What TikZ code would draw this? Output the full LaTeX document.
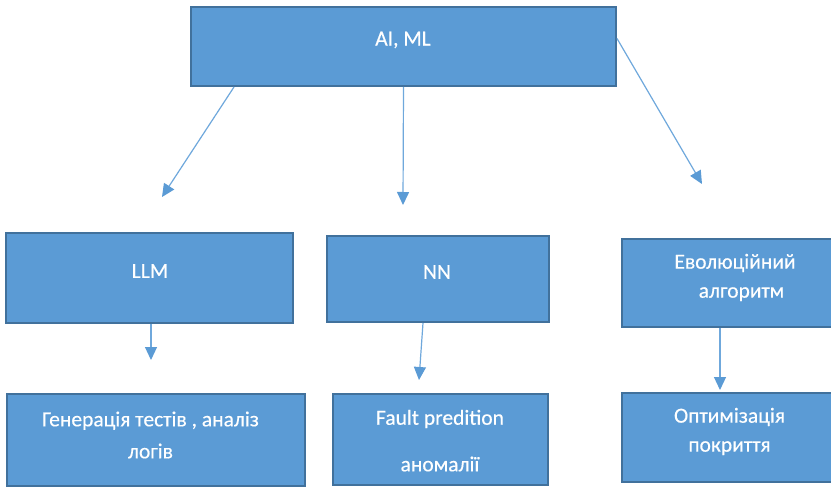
\documentclass[tikz,border=0pt]{standalone}
\usepackage{fontspec}
\setmainfont{Carlito}
\newfontfamily\boxfont{Carlito}[FakeBold=0.35]
\usetikzlibrary{arrows.meta}
\definecolor{boxfill}{HTML}{5B9BD5}
\definecolor{boxline}{HTML}{41719C}
\definecolor{arrline}{HTML}{6FA8DC}
\tikzset{
  blk/.style={draw=boxline, fill=boxfill, line width=2pt, rectangle, inner sep=0pt},
  txt/.style={text=white, font=\boxfont\fontsize{21.5}{30}\selectfont, align=center, inner sep=0pt},
  conn/.style={draw=arrline, line width=1.2pt, -{Triangle[length=13pt,width=12pt,fill=boxfill,color=boxfill]}}
}
\begin{document}
\begin{tikzpicture}[x=1pt,y=-1pt]
\useasboundingbox (0,0) rectangle (831,487);
\clip (0,0) rectangle (831,487);
\fill[white] (0,0) rectangle (831,487);
% boxes
\node[blk, minimum width=425pt, minimum height=79pt] (top) at (403.5,46.5) {};
\node[blk, minimum width=287pt, minimum height=90pt] (llm) at (149.5,278) {};
\node[blk, minimum width=222pt, minimum height=86pt] (nn) at (438,279) {};
\node[blk, minimum width=228pt, minimum height=88pt] (evo) at (736,283) {};
\node[blk, minimum width=298pt, minimum height=92pt] (gen) at (156,440) {};
\node[blk, minimum width=215pt, minimum height=91pt] (fault) at (440.5,439.5) {};
\node[blk, minimum width=228pt, minimum height=89pt] (opt) at (736,437.5) {};
% texts
\node[txt] (ttop) at (403,40) {AI, ML};
\node[txt] (tllm) at (150,271) {LLM};
\node[txt] (tnn) at (437,272) {NN};
\node[txt] (tevo) at (735,277.5) {Еволюційний\\[-1pt]\hspace*{13pt}алгоритм};
\node[txt] (tgen) at (150.5,435) {Генерація тестів , аналіз\\[2pt]логів};
\node[txt] (tfault1) at (440,419) {Fault predition};
\node[txt] (tfault2) at (440,464) {аномалії};
\node[txt] (topt) at (729.5,431.5) {Оптимізація\\[-1pt]покриття};
% arrow tips
\coordinate (e1) at (162,197);
\coordinate (e2) at (403,205);
\coordinate (e3) at (702,184);
\coordinate (e4) at (151,360);
\coordinate (e5) at (419,380);
\coordinate (e6) at (720,390);
% connectors
\draw[conn] ([xshift=44pt]top.south west) -- (e1);
\draw[conn] (top.south) -- (e2);
\draw[conn] ([yshift=8pt]top.east) -- (e3);
\draw[conn] ([xshift=1.5pt]llm.south) -- (e4);
\draw[conn] ([xshift=-15pt]nn.south) -- (e5);
\draw[conn] ([xshift=-16pt]evo.south) -- (e6);
\end{tikzpicture}
\end{document}
